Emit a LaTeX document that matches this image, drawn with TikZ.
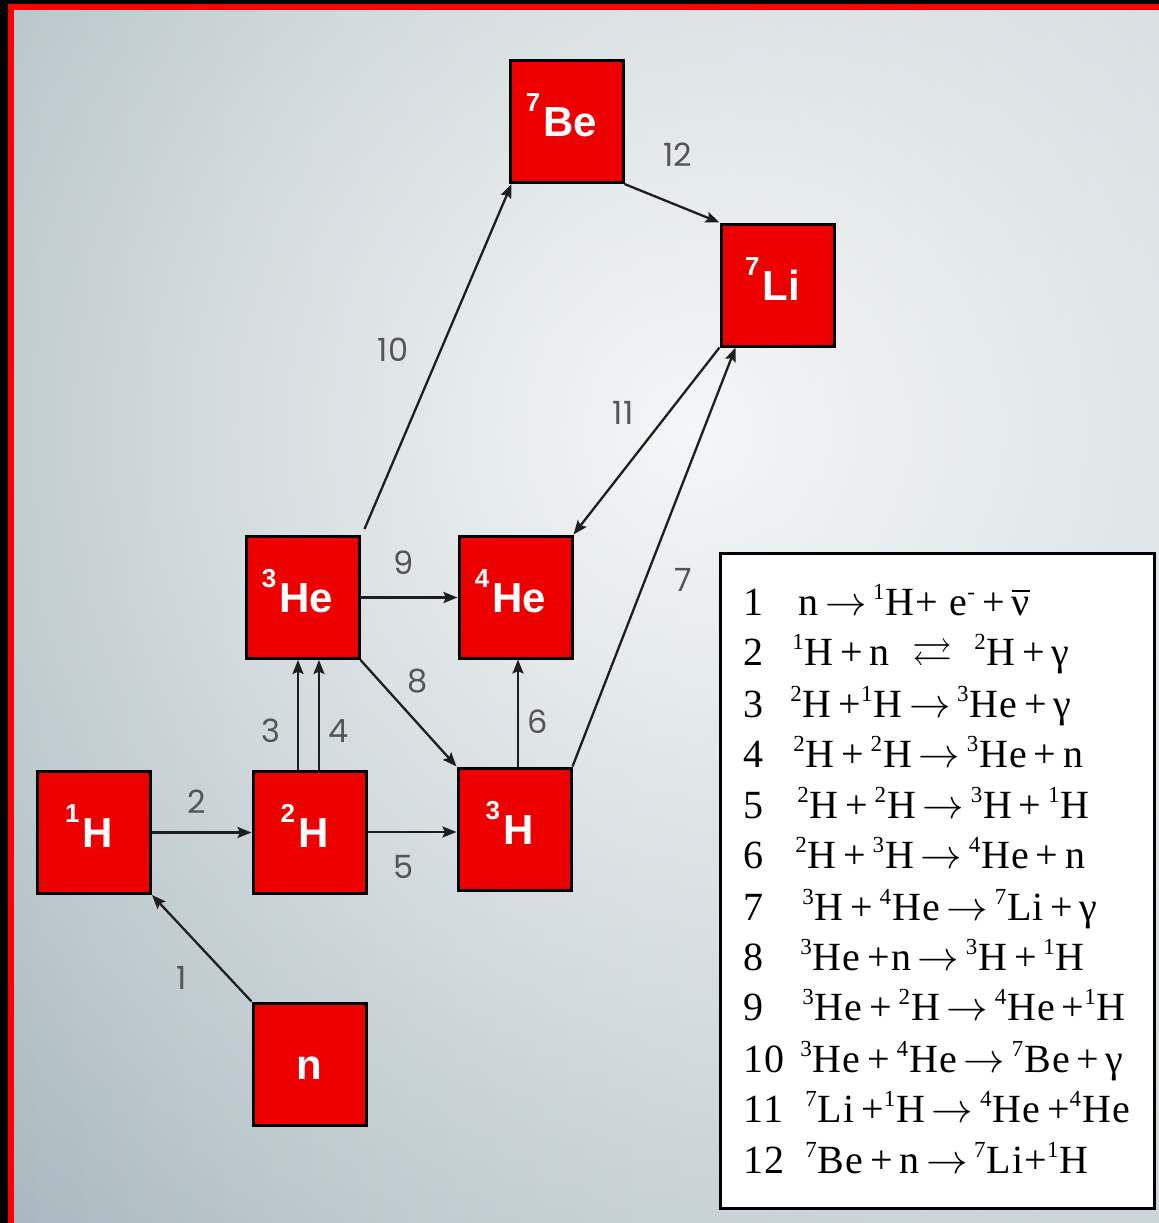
\documentclass[tikz,border=0pt]{standalone}
\usepackage{amssymb}
\usepackage{fontspec}
\setmainfont{Liberation Serif}
\newfontfamily\eqfont{Liberation Serif}[LetterSpace=3]
\newfontfamily\elemfont{Liberation Sans}
\newfontfamily\stepfont{Poppins}
\usetikzlibrary{arrows.meta,calc,fadings}

\definecolor{boxred}{RGB}{236,0,0}
\definecolor{framered}{RGB}{255,0,0}
\definecolor{lblgray}{RGB}{85,85,85}
\definecolor{linegray}{RGB}{30,30,30}
\definecolor{bgLeft}{RGB}{166,183,189}
\definecolor{bgRight}{RGB}{196,208,212}

\tikzfading[name=glowfade, inner color=transparent!0, outer color=transparent!100]

% isotope label: raised mass number before the symbol
\newcommand\nuc[2]{\raisebox{12.5pt}{\fontsize{13}{13}\selectfont#1}\kern1.5pt#2\kern5pt}
% isotope in the reaction list
\newcommand\iso[2]{\ensuremath{^{\mbox{\fontsize{11.5}{11.5}\selectfont#1}}}#2}
\newcommand\ra{\,$\rightarrow$\,}

\tikzset{
  elem/.style={draw=black, line width=1.5pt, fill=boxred, minimum width=56.5pt,
    minimum height=61pt, inner sep=0pt, text=white,
    font=\elemfont\bfseries\fontsize{21}{21}\selectfont,
    text height=15pt, text depth=0pt},
  conn/.style={draw=linegray, line width=1.15pt,
    -{Stealth[length=7pt,width=5.5pt,inset=1.2pt]}},
  lbl/.style={text=lblgray, font=\stepfont\fontsize{16}{16}\selectfont, inner sep=0pt},
  eqnum/.style={anchor=base west, inner sep=0pt, font=\eqfont\fontsize{20}{24}\selectfont},
  eqtext/.style={anchor=base west, inner sep=0pt, font=\eqfont\fontsize{20}{24}\selectfont}
}

\begin{document}
\begin{tikzpicture}[x=0.5pt,y=-0.5pt]
  \useasboundingbox (0,0) rectangle (1159,1223);
  % outer frame
  \fill[black] (0,0) rectangle (1159,1223);
  \fill[framered] (8,4) rectangle (1159,10);
  \fill[framered] (8,4) rectangle (14,1223);
  % backdrop with a soft light spot
  \begin{scope}
    \clip (14,10) rectangle (1159,1223);
    \shade[left color=bgLeft, right color=bgRight] (14,10) rectangle (1159,1223);
    \fill[white, fill opacity=0.85, path fading=glowfade] (690,430) circle[radius=540pt];
  \end{scope}

  % nuclides
  \node[elem] (hOne)    at (94,832.5)  {\nuc{1}{H}};
  \node[elem] (hTwo)    at (309.5,832) {\nuc{2}{H}};
  \node[elem] (nn)      at (309.5,1064) {n};
  \node[elem] (heThree) at (302.5,597.5) {\nuc{3}{He}};
  \node[elem] (heFour)  at (515.5,597) {\nuc{4}{He}};
  \node[elem] (hThree)  at (514.5,829) {\nuc{3}{H}};
  \node[elem] (beSeven) at (566.5,121.5) {\nuc{7}{Be}};
  \node[elem] (liSeven) at (777.5,285) {\nuc{7}{Li}};

  % reactions
  \draw[conn] (nn.north west) -- (hOne.south east);
  \draw[conn] (hOne.east) -- (hOne.east -| hTwo.west);
  \coordinate (sThree) at ($(hTwo.north)+(-11.5,0)$);
  \coordinate (sFour) at ($(hTwo.north)+(9.5,0)$);
  \draw[conn] (sThree) -- (sThree |- heThree.south);
  \draw[conn] (sFour) -- (sFour |- heThree.south);
  \draw[conn] (hTwo.east) -- (hTwo.east -| hThree.west);
  \coordinate (sSix) at ($(hThree.north)+(3.5,0)$);
  \draw[conn] (sSix) -- (sSix |- heFour.south);
  \coordinate (tSeven) at ($(liSeven.south)+(-42,0)$);
  \draw[conn] (hThree.north east) -- (tSeven);
  \draw[conn] (heThree.south east) -- (hThree.north west);
  \draw[conn] (heThree.east) -- (heThree.east -| heFour.west);
  \coordinate (tTen) at ($(beSeven.south west)+(3,0)$);
  \draw[conn] ($(heThree.north east)+(4,-6)$) -- (tTen);
  \draw[conn] (liSeven.south west) -- (heFour.north east);
  \draw[conn] (beSeven.south east) -- (liSeven.north west);

  % reaction numbers
  \node[lbl] (lOne)    at (182,978) {1};
  \node[lbl] (lTwo)    at (197,802) {2};
  \node[lbl] (lThree)  at (271,731) {3};
  \node[lbl] (lFour)   at (339,731) {4};
  \node[lbl] (lFive)   at (404,867) {5};
  \node[lbl] (lSix)    at (538,722) {6};
  \node[lbl] (lSeven)  at (683,580) {7};
  \node[lbl] (lEight)  at (418,681) {8};
  \node[lbl] (lNine)   at (404,563) {9};
  \node[lbl] (lTen)    at (393,350) {10};
  \node[lbl] (lEleven) at (623,413) {11};
  \node[lbl] (lTwelve) at (678,155) {12};

  % reaction list
  \node[draw=black, line width=1.5pt, fill=white, anchor=north west,
        minimum width=217pt, minimum height=327.5pt, inner sep=0pt] (legend) at (719,552) {};

  \node[eqnum] (kOne)    at (743,615)  {1};
  \node[eqnum] (kTwo)    at (743,665)  {2};
  \node[eqnum] (kThree)  at (743,717)  {3};
  \node[eqnum] (kFour)   at (743,767)  {4};
  \node[eqnum] (kFive)   at (743,818)  {5};
  \node[eqnum] (kSix)    at (743,868)  {6};
  \node[eqnum] (kSeven)  at (743,920)  {7};
  \node[eqnum] (kEight)  at (743,970)  {8};
  \node[eqnum] (kNine)   at (743,1020) {9};
  \node[eqnum] (kTen)    at (743,1072) {10};
  \node[eqnum] (kEleven) at (743,1122) {11};
  \node[eqnum] (kTwelve) at (743,1173) {12};

  \node[eqtext] (rOne)    at (798,615)  {n\ra\iso{1}{H}+ e\iso{-}{}\,+\,$\overline{\mbox{ν}}$};
  \node[eqtext] (rTwo)    at (792,665)  {\iso{1}{H}\,+\,n \ $\rightleftarrows$ \ \iso{2}{H}\,+\,γ};
  \node[eqtext] (rThree)  at (790,717)  {\iso{2}{H}\,+\iso{1}{H}\ra\iso{3}{He}\,+\,γ};
  \node[eqtext] (rFour)   at (793,767)  {\iso{2}{H}\,+\,\iso{2}{H}\ra\iso{3}{He}\,+\,n};
  \node[eqtext] (rFive)   at (797,818)  {\iso{2}{H}\,+\,\iso{2}{H}\ra\iso{3}{H}\,+\,\iso{1}{H}};
  \node[eqtext] (rSix)    at (795,868)  {\iso{2}{H}\,+\,\iso{3}{H}\ra\iso{4}{He}\,+\,n};
  \node[eqtext] (rSeven)  at (802,920)  {\iso{3}{H}\,+\,\iso{4}{He}\ra\iso{7}{Li}\,+\,γ};
  \node[eqtext] (rEight)  at (800,970)  {\iso{3}{He}\,+n\ra\iso{3}{H}\,+\,\iso{1}{H}};
  \node[eqtext] (rNine)   at (802,1020) {\iso{3}{He}\,+\,\iso{2}{H}\ra\iso{4}{He}\,+\iso{1}{H}};
  \node[eqtext] (rTen)    at (800,1072) {\iso{3}{He}\,+\,\iso{4}{He}\ra\iso{7}{Be}\,+\,γ};
  \node[eqtext] (rEleven) at (805,1122) {\iso{7}{Li}\,+\iso{1}{H}\ra\iso{4}{He}\,+\iso{4}{He}};
  \node[eqtext] (rTwelve) at (805,1173) {\iso{7}{Be}\,+\,n\ra\iso{7}{Li}+\iso{1}{H}};
\end{tikzpicture}
\end{document}
